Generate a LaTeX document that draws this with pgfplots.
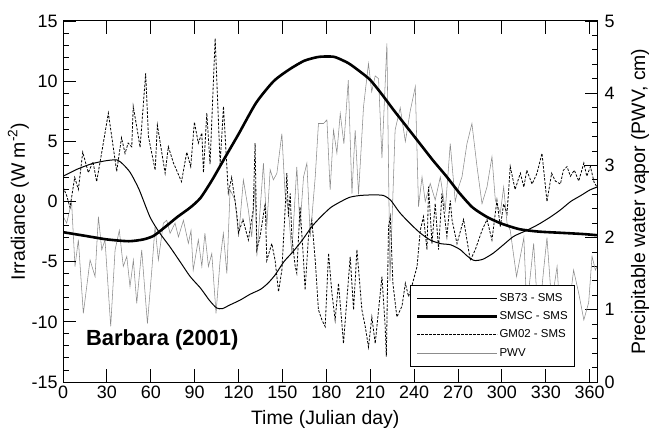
\documentclass[border=0pt]{standalone}
\usepackage{fontspec}
\setmainfont{Liberation Sans}
\usepackage{pgfplots}
\pgfplotsset{compat=1.18}
\usepackage{pgfplotstable}

\pgfplotstableread{
day irr
0 2.1
10 2.7
20 3.15
30 3.4
37 3.45
41 3.1
46 2.4
52 1.0
59.5 -1.3
66 -2.6
73 -3.75
80 -5.0
87 -6.25
94 -7.2
100 -8.2
105 -8.85
109 -8.9
114 -8.6
121 -8.2
128 -7.7
135 -7.3
140 -6.8
145 -6.1
151 -5.0
157 -4.2
163 -3.3
170 -2.1
176 -1.3
183 -0.5
190 0.0
196 0.35
203 0.5
212 0.55
219 0.5
224 0.1
230 -0.9
237 -1.8
244 -2.6
251 -3.2
258 -3.5
265 -3.6
271.5 -4.0
276 -4.5
281 -4.9
287 -4.8
294 -4.3
301 -3.6
308 -2.9
317 -2.4
325 -1.9
333 -1.3
340 -0.7
347 0.0
354 0.5
360 0.95
365 1.2
}\sbdata

\pgfplotstableread{
day irr
0 -2.55
15 -2.85
30 -3.15
45 -3.3
55 -3.15
62 -2.85
70 -2.1
78 -1.3
87 -0.5
94 0.3
102 1.8
110 3.5
120 5.6
132 8.2
144 10.0
155 11.0
165 11.7
174 12.0
180 12.05
186 12.0
195 11.5
203 10.8
210 10.1
218 8.9
226 7.6
235 6.2
244 4.8
253 3.4
262 2.1
271 0.7
280 -0.5
290 -1.3
300 -1.85
312 -2.3
325 -2.5
340 -2.6
355 -2.7
365 -2.8
}\smscdata

\pgfplotstableread{
day irr
0 1.2
2.5 0.5
4.8 -0.5
8 2.0
10.5 1.0
13.5 4.1
17.3 2.4
20.5 3.3
23 1.65
26.5 4.1
31 7.35
36.7 2.5
40 5.3
42.4 4.0
44.5 4.85
47 4.55
48 7.9
50.4 6.2
52.7 4.5
56.5 10.65
58.4 5.4
63 2.6
64.5 6.35
69.8 2.35
72 4.55
75.5 3.2
81 1.65
84.6 4.1
87.3 2.9
89.8 6.6
92.5 4.85
94.9 5.7
96 2.4
98.3 7.35
100.5 3.1
104 13.55
107.4 3.1
109.7 7.9
113 0.7
115.3 2.0
118.8 -1.0
120 -2.6
123 -1.5
126.7 -3.2
130 -0.7
131.3 4.84
132.5 -4.0
134.7 -2.9
138.2 -0.15
139.3 -4.9
142.7 -3.5
145 -4.9
147.3 -7.5
149.6 -5.7
151.8 -0.7
153 2.35
154.1 -1.26
155.3 0.68
156.4 -2.9
158.7 -5.4
159.8 -5.95
162 -0.43
164.4 -4.9
165.5 -7.35
167.8 -2.9
170.1 -1.54
172.4 -4.9
174.6 -9.0
177 -9.85
179.2 -10.4
181.5 -4.3
183.8 -7.6
186 -9.85
188.3 -6.8
190.6 -10.1
191.7 -11.8
196.3 -4.6
198.6 -9.0
200.9 -4.0
204.3 -9.0
206.6 -10.4
208.8 -12.1
211.1 -9.6
213.4 -11.8
215.7 -9.0
218 -6.25
220.2 -10.4
221 -12.9
222.5 -2.1
223.7 -1.26
225.5 -6.8
228.2 -9.6
231.7 -8.7
234 -6.8
236.2 -7.9
238.5 -7.0
242 -5.4
244.2 -2.4
246.4 -1.26
248.8 -4.0
249.9 1.23
252.2 -3.5
254.4 -0.15
256.7 -4.0
259 0.68
262.4 -2.9
264.7 0.1
265.9 -1.54
269.3 -3.5
273.8 -1.5
278.4 -4.9
281.8 -4.0
286.4 -2.4
289.8 -1.5
293.2 -3.2
296.6 0.1
298.9 -2.1
301.2 -0.2
303.5 -1.0
305.7 2.9
309 1.0
312.6 2.35
315 1.2
317 2.6
320.6 1.45
324 2.35
327.4 4.0
330.8 0.0
334 2.35
336.5 1.7
340 1.45
342 2.6
344.5 2.9
346.8 2.1
349.5 2.6
352.5 1.7
356 3.2
358 2.1
360.5 2.9
363 1.6
365 1.2
}\gmdata

\pgfplotstableread{
day pwv
0 2.3
2.5 2.2
4.8 2.4
5.9 2.48
8.2 1.6
10.5 1.97
13.9 0.95
18.5 1.69
21.9 1.46
24.2 2.29
26.5 1.83
28.7 1.97
32.6 0.77
35.6 1.83
38.5 2.1
41.2 1.6
43.6 1.74
45.8 1.32
48.1 1.69
50.4 1.09
53.8 1.83
57.7 0.81
60.7 1.55
62.9 2.15
65.2 1.69
68.6 2.2
70.9 2.24
73.2 2.06
76.6 2.2
78.9 2.01
82.3 2.24
85.7 1.92
87.5 2.1
89 1.55
92.5 1.97
94.9 1.6
97 2.06
99.4 1.6
101.7 1.78
104.6 0.95
107.4 1.69
109.6 2.06
112 1.5
114.2 2.66
117.6 2.52
120 2.01
123.3 2.8
126.7 2.38
129 2.01
131.3 2.75
132.5 1.74
134.7 2.38
137 3.03
139.3 2.15
141.6 2.94
143.8 2.8
146.2 2.89
149.6 3.44
151.8 2.61
154.1 2.38
156.4 1.78
159.8 2.98
162 2.15
164.4 2.84
166.7 3.03
169 2.01
172.4 2.84
174.6 3.58
178 3.58
180.4 3.63
182.6 2.66
184.9 3.49
187.2 3.17
189.5 3.72
192 3.3
195 4.18
197.5 2.61
199.7 3.49
202 2.6
205.4 3.81
208.8 4.41
211 4.02
213.4 4.24
215.7 4.2
218 3.1
221.4 4.69
223.5 1.4
227 3.49
230.5 3.8
234 3.33
237.3 3.75
240.8 4.09
243 2.43
245.4 2.84
247.6 2.5
251 2.75
254.4 2.52
257.9 2.84
261.3 2.38
264.7 3.3
268.1 2.5
270.4 2.7
272.7 2.84
276.1 3.3
279.5 3.58
283 2.98
286.4 2.47
289.8 2.7
293.2 3.12
295.5 2.52
298.9 2.34
301.2 2.7
303.5 2.2
305.7 2.1
310 1.46
315 2.0
317 1.0
321.7 1.92
325 0.81
328.5 1.55
330.8 2.0
334 1.09
337.7 1.6
341 0.54
345.7 1.0
349 1.55
352.5 1.23
356 0.86
359.3 1.1
361.6 1.74
363.9 1.55
365 1.6
}\pwvdata

\pgfplotsset{
  commonax/.style={
    at={(0,0)}, anchor=south west, scale only axis,
    width=534bp, height=361bp,
    xmin=0, xmax=365,
    tick align=inside,
    major tick length=12.5bp, minor tick length=5.5bp,
    every tick/.append style={line width=0.9bp, black},
    tick label style={font=\fontsize{18}{18}\selectfont},
    /pgf/number format/assume math mode=true,
    label style={font=\fontsize{19.5}{20}\selectfont},
  },
}

\begin{document}
\begin{tikzpicture}
\path[use as bounding box] (-63bp,-50bp) rectangle (586bp,382bp);
\begin{axis}[
  commonax,
  ymin=0, ymax=5,
  axis x line=none, axis y line*=right,
  axis line style={-, line width=1bp},
  ytick={0,1,...,5}, minor y tick num=4,
  yticklabel style={xshift=4bp},
  ylabel={Precipitable water vapor (PWV, cm)},
  ylabel style={at={(axis description cs:1.0899,0.5)}, anchor=base},
]
\addplot[black!45, line width=0.55bp] table[x=day,y=pwv] {\pwvdata};
\end{axis}
\begin{axis}[
  commonax,
  ymin=-15, ymax=15,
  xtick={0,30,...,360}, ytick={-15,-10,...,15}, minor y tick num=4,
  xtick pos=both, ytick pos=left,
  axis line style={line width=1bp},
  yticklabel style={xshift=-2bp},
  xlabel={Time (Julian day)},
  xlabel style={at={(axis description cs:0.491,-0.119)}, anchor=base},
  ylabel={Irradiance (W m\textsuperscript{-2})},
  ylabel style={at={(axis description cs:-0.0712,0.5)}, anchor=base},
  legend image code/.code={\draw[#1] (0bp,0bp) -- (80bp,0bp);},
  legend cell align=left,
  legend style={at={(0.6489,0.0429)}, anchor=south west,
    draw=black, line width=0.9bp, fill=white,
    font=\fontsize{11.5}{13}\selectfont,
    inner xsep=6bp, inner ysep=7bp, row sep=5.6bp,
    nodes={inner sep=1bp, text height=8.5bp, text depth=2bp},
    /tikz/every even column/.append style={column sep=6.7bp}},
]
\addplot[black, line width=1bp, smooth, tension=0.4] table[x=day,y=irr] {\sbdata};
\addlegendentry{SB73 - SMS}
\addplot[black, line width=2.6bp, smooth, tension=0.4] table[x=day,y=irr] {\smscdata};
\addlegendentry{SMSC - SMS}
\addplot[black, line width=0.8bp, dash pattern=on 2.5bp off 1.5bp] table[x=day,y=irr] {\gmdata};
\addlegendentry{GM02 - SMS}
\addlegendimage{black!45, line width=0.55bp}
\addlegendentry{PWV}
\node[anchor=base west, inner sep=0pt, font=\fontsize{22}{22}\selectfont\bfseries] at (axis cs:15.7,-11.93) {Barbara (2001)};
\end{axis}
\end{tikzpicture}
\end{document}
